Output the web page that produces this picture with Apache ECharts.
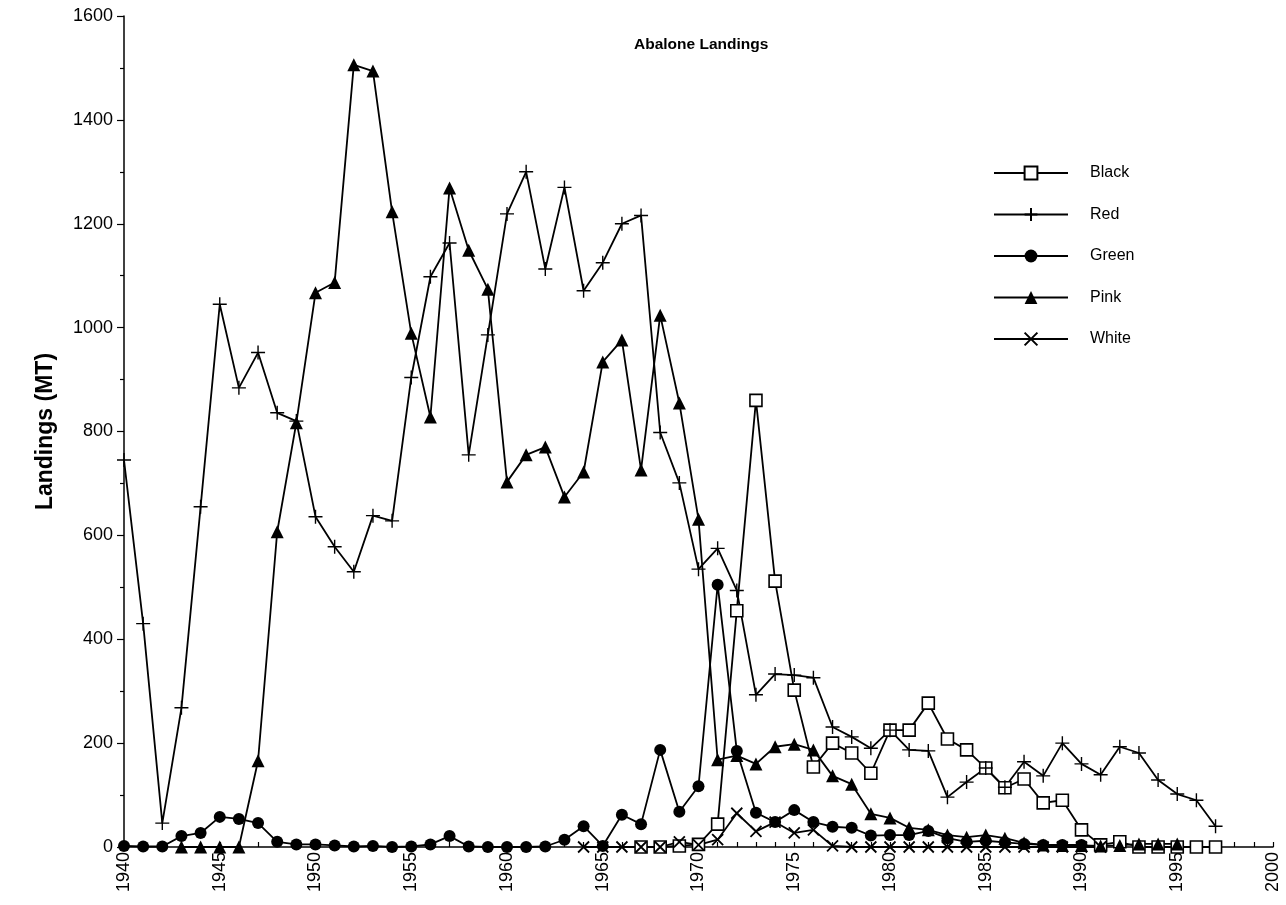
<!DOCTYPE html>
<html>
<head>
<meta charset="utf-8">
<title>Abalone Landings</title>
<script src="https://cdn.jsdelivr.net/npm/echarts@6/dist/echarts.min.js"></script>
<style>
  html, body { margin: 0; padding: 0; background: #ffffff; }
  #chart { width: 1286px; height: 905px; }
</style>
</head>
<body>
<div id="chart"></div>
<script>
// Annual abalone landings by species, metric tonnes
const speciesNames = ['Black', 'Red', 'Green', 'Pink', 'White'];

const blackStart = 1967;
const blackValues = [0, 0, 2, 5, 44, 455, 860, 512, 302, 154, 200, 181, 142, 225, 225, 277, 208, 187, 152, 114, 131, 85, 90, 33, 4, 10, 0, 0, 0, 0, 0];

const redStart = 1940;
const redValues = [745, 430, 46, 268, 655, 1045, 884, 952, 836, 820, 636, 578, 530, 638, 628, 904, 1098, 1163, 755, 986,
  1219, 1300, 1113, 1270, 1071, 1125, 1200, 1216, 798, 701, 535, 575, 494, 293, 333, 331, 326, 231, 212, 190,
  225, 187, 185, 96, 125, 152, 115, 164, 137, 200, 160, 139, 193, 181, 129, 102, 90, 40];

const greenStart = 1940;
const greenValues = [2, 1, 1, 21, 27, 58, 54, 46, 10, 5, 5, 3, 1, 2, 0, 1, 5, 21, 1, 0,
  0, 0, 1, 14, 40, 2, 62, 44, 187, 68, 117, 505, 185, 66, 48, 71, 48, 39, 37, 22,
  23, 23, 31, 17, 10, 12, 9, 6, 4, 4, 4];

const pinkStart = 1943;
const pinkValues = [0, 0, 0, 0, 166, 607, 817, 1067, 1087, 1506, 1494, 1223, 989, 828, 1269, 1149, 1074,
  703, 755, 770, 674, 722, 934, 976, 726, 1024, 855, 631, 168, 176, 160, 193, 198, 187, 137, 121, 64,
  56, 37, 33, 23, 19, 23, 17, 8, 4, 3, 3, 2, 3, 6, 6, 6];

const whiteStart = 1964;
const whiteValues = [0, 0, 0, 0, 0, 10, 4, 14, 65, 30, 48, 27, 33, 2, 0, 0, 0, 0, 0, 0, 0, 0, 0, 0, 0, 0, 0, 0];

// Axis ranges and tick labels
const yearMin = 1940, yearMax = 2000, yearLabelStep = 5;
const landingsMin = 0, landingsMax = 1600, landingsStep = 200;

function toPairs(start, values) {
  return values.map((v, i) => [start + i, v]);
}

const FONT = '"Liberation Sans", Arial, Helvetica, sans-serif';
const INK = '#000000';

const plusPath = 'path://M5,0L5,10M0,5L10,5';
const crossPath = 'path://M0,0L10,10M10,0L0,10';

function lineSeries(name, start, values, symbol, size, itemStyle) {
  return {
    name: name,
    type: 'line',
    data: toPairs(start, values),
    symbol: symbol,
    symbolSize: size,
    showAllSymbol: true,
    clip: false,
    lineStyle: { color: INK, width: 1.8 },
    itemStyle: itemStyle,
    emphasis: { disabled: true },
    animation: false
  };
}

const chart = echarts.init(document.getElementById('chart'), null, { renderer: 'canvas' });

chart.setOption({
  backgroundColor: '#ffffff',
  animation: false,
  title: {
    text: 'Abalone Landings',
    left: 629,
    top: 32,
    textStyle: { fontFamily: FONT, fontSize: 15.5, fontWeight: 'bold', color: INK }
  },
  legend: {
    orient: 'vertical',
    left: 988,
    top: 160,
    itemWidth: 74,
    itemHeight: 16,
    itemGap: 25.5,
    data: speciesNames,
    textStyle: { fontFamily: FONT, fontSize: 16, color: INK, padding: [0, 0, 0, 17] },
    selectedMode: false
  },
  grid: { left: 124, right: 13, top: 16, bottom: 58, containLabel: false },
  xAxis: {
    type: 'value',
    min: yearMin,
    max: yearMax,
    interval: 1,
    axisLine: { show: true, onZero: false, lineStyle: { color: INK, width: 1.5 } },
    axisTick: { show: true, inside: true, length: 5, lineStyle: { color: INK, width: 1.2 } },
    axisLabel: {
      rotate: 90,
      margin: 5,
      fontFamily: FONT,
      fontSize: 18,
      color: INK,
      showMinLabel: true,
      showMaxLabel: true,
      formatter: v => (v % yearLabelStep === 0 ? String(v) : '')
    },
    splitLine: { show: false }
  },
  yAxis: {
    type: 'value',
    min: landingsMin,
    max: landingsMax,
    interval: landingsStep,
    name: 'Landings (MT)',
    nameLocation: 'middle',
    nameRotate: 90,
    nameGap: 67,
    nameTextStyle: { fontFamily: FONT, fontSize: 23, fontWeight: 'bold', color: INK },
    axisLine: { show: true, lineStyle: { color: INK, width: 1.5 } },
    axisTick: { show: true, inside: false, length: 7, lineStyle: { color: INK, width: 1.2 } },
    minorTick: { show: true, splitNumber: 2, length: 4, lineStyle: { color: INK, width: 1.2 } },
    axisLabel: { fontFamily: FONT, fontSize: 18, color: INK, margin: 11, formatter: v => String(v) },
    splitLine: { show: false }
  },
  series: [
    lineSeries('Black', blackStart, blackValues, 'rect', 12,
      { color: '#ffffff', borderColor: INK, borderWidth: 1.6 }),
    lineSeries('Red', redStart, redValues, plusPath, [14, 14],
      { color: 'transparent', borderColor: INK, borderWidth: 1.4 }),
    lineSeries('Green', greenStart, greenValues, 'circle', 12,
      { color: INK, borderColor: INK, borderWidth: 0 }),
    lineSeries('Pink', pinkStart, pinkValues, 'triangle', 13,
      { color: INK, borderColor: INK, borderWidth: 0 }),
    lineSeries('White', whiteStart, whiteValues, crossPath, [11, 11],
      { color: 'transparent', borderColor: INK, borderWidth: 1.8 })
  ]
});
</script>
</body>
</html>
